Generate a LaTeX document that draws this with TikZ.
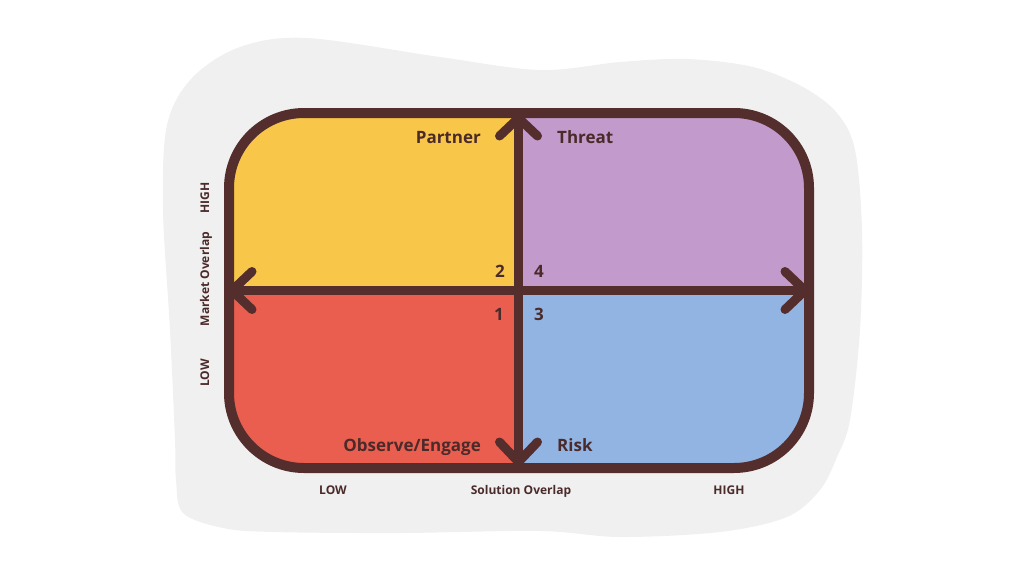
\documentclass[tikz,border=0pt]{standalone}
\usepackage{fontspec}
\setmainfont{Open Sans}
\definecolor{blobgray}{HTML}{F0F0F0}
\definecolor{cyellow}{HTML}{F8C74A}
\definecolor{cpurple}{HTML}{C29ACB}
\definecolor{cred}{HTML}{EA5E50}
\definecolor{cblue}{HTML}{92B4E2}
\definecolor{cbrown}{HTML}{542E2C}
\definecolor{ctext}{HTML}{4B2A2A}
\begin{document}
\begin{tikzpicture}[x=1pt,y=-1pt,
  outline/.style={draw=cbrown,line width=10pt,rounded corners=75pt},
  axisline/.style={draw=cbrown,line width=9pt,line cap=round,line join=round},
  quadlabel/.style={text=ctext,font=\fontsize{17}{20}\selectfont\bfseries,inner sep=0pt},
  axislabel/.style={text=ctext,font=\fontsize{12}{14}\selectfont\bfseries,inner sep=0pt}]
\useasboundingbox (0,0) rectangle (1024,576);
% background blob
\fill[blobgray] plot[smooth cycle, tension=0.55] coordinates {
  (175,440) (170,330) (163,210) (167,125) (192,78) (240,47) (307,38)
  (440,57) (540,70) (620,62) (687,59) (753,67) (803,87) (837,113)
  (855,150) (862,230) (860,330) (850,420) (837,457) (820,490) (787,517)
  (720,532) (620,537) (540,531) (400,533) (273,532) (223,528) (183,513) (176,480)};
% quadrant fills
\begin{scope}
  \clip[rounded corners=75pt] (229,113) rectangle (809,468);
  \fill[cyellow] (229,113) rectangle (518.5,290.5);
  \fill[cpurple] (518.5,113) rectangle (809,290.5);
  \fill[cred] (229,290.5) rectangle (518.5,468);
  \fill[cblue] (518.5,290.5) rectangle (809,468);
\end{scope}
\draw[outline] (229,113) rectangle (809,468);
% axes
\coordinate (top) at (518.5,118);
\coordinate (bot) at (518.5,462);
\coordinate (lft) at (232,290.5);
\coordinate (rgt) at (805,290.5);
\draw[axisline] (bot) -- (top);
\draw[axisline] (lft) -- (rgt);
\draw[axisline] ([shift={(-19,18)}]top) -- (top) -- ([shift={(19,18)}]top);
\draw[axisline] ([shift={(-19,-20)}]bot) -- (bot) -- ([shift={(19,-20)}]bot);
\draw[axisline] ([shift={(20,-19)}]lft) -- (lft) -- ([shift={(20,19)}]lft);
\draw[axisline] ([shift={(-20,-19)}]rgt) -- (rgt) -- ([shift={(-20,19)}]rgt);
% quadrant labels
\node[quadlabel,anchor=base east] (partner) at (481,143) {Partner};
\node[quadlabel,anchor=base west] (threat) at (557,143) {Threat};
\node[quadlabel,anchor=base east] (observe) at (481,451) {Observe/Engage};
\node[quadlabel,anchor=base west] (risk) at (557,451) {Risk};
\node[quadlabel,anchor=base] (n2) at (500,277) {2};
\node[quadlabel,anchor=base] (n4) at (539,277) {4};
\node[quadlabel,anchor=base] (n1) at (499,320) {1};
\node[quadlabel,anchor=base] (n3) at (539,320) {3};
% axis labels
\node[axislabel,anchor=base] (xlow) at (333,494) {LOW};
\node[axislabel,anchor=base] (xname) at (521,494) {Solution Overlap};
\node[axislabel,anchor=base] (xhigh) at (729,494) {HIGH};
\node[axislabel,rotate=90,anchor=base] (yhigh) at (209,198) {HIGH};
\node[axislabel,rotate=90,anchor=base] (yname) at (209,279) {Market Overlap};
\node[axislabel,rotate=90,anchor=base] (ylow) at (209,373) {LOW};
\end{tikzpicture}
\end{document}
